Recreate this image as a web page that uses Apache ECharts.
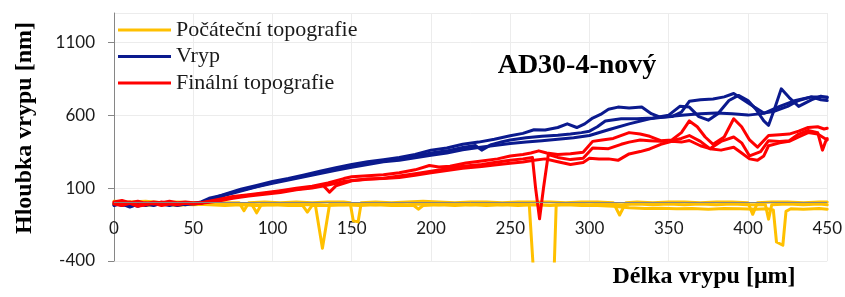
<!DOCTYPE html>
<html><head><meta charset="utf-8">
<script src="https://cdn.jsdelivr.net/npm/echarts@6/dist/echarts.min.js"></script>
<style>html,body{margin:0;padding:0;background:#fff}#c{width:845px;height:297px}</style>
</head><body><div id="c"></div>
<script>
// ---- data (x in µm, depth in nm) ----
const legendNames = ['Počáteční topografie', 'Vryp', 'Finální topografie'];
const titleText = 'AD30-4-nový';
const xName = 'Délka vrypu [μm]';
const yName = 'Hloubka vrypu [nm]';
const yMin = -400, yMax = 1300, yStep = 500;
const xMin = 0, xMax = 450, xStep = 50;

const initial1 = [[0,10],[10,5],[20,10],[30,0],[40,5],[50,0],[60,5],[70,0],[79,0],[82,-56],[85,0],[95,5],[105,0],[115,5],[125,0],[135,5],[145,5],[149,0],[151,-125],[154,-132],[156,0],[165,5],[175,0],[185,5],[195,10],[205,5],[215,0],[225,5],[235,5],[245,0],[255,5],[265,5],[275,5],[285,0],[295,5],[305,5],[315,0],[319,-85],[323,0],[330,5],[340,0],[350,5],[360,5],[370,0],[380,5],[390,5],[400,0],[403,-80],[406,0],[415,5],[425,5],[435,0],[445,5],[450,5]];
const initial2 = [[0,-10],[10,-15],[20,-5],[30,-15],[40,-10],[50,-15],[60,-10],[70,-15],[80,-10],[87,-12],[90,-70],[93,-12],[100,-15],[110,-10],[120,-15],[127,-12],[131.5,-313],[136,-12],[145,-15],[155,-10],[165,-15],[175,-10],[185,-15],[195,-10],[205,-15],[215,-10],[225,-15],[235,-10],[245,-15],[255,-10],[262,-12],[266,-700],[272,-900],[277,-700],[279,-15],[290,-10],[300,-15],[310,-10],[320,-15],[330,-10],[340,-15],[350,-10],[360,-15],[370,-10],[380,-15],[390,-10],[400,-15],[411,-15],[413,-113],[415,-15],[425,-10],[435,-15],[445,-10],[450,-15]];
const initial3 = [[0,-15],[10,-5],[20,-20],[30,-10],[40,-20],[50,-10],[60,-15],[70,-20],[80,-15],[90,-20],[100,-15],[110,-20],[119,-18],[122,-65],[125,-18],[135,-20],[145,-15],[155,-20],[165,-15],[175,-20],[185,-20],[189,-18],[192,-45],[195,-20],[205,-15],[215,-20],[225,-15],[235,-20],[245,-15],[255,-20],[265,-15],[275,-20],[285,-15],[295,-20],[305,-20],[315,-25],[325,-35],[335,-40],[345,-38],[355,-42],[365,-40],[375,-45],[385,-40],[395,-42],[405,-45],[412,-42],[416,-50],[418,-270],[422,-292],[424,-60],[427,-42],[435,-45],[445,-40],[450,-45]];

const scratch1 = [[0,-5],[5,-20],[10,-10],[15,-25],[20,-5],[25,-15],[30,-10],[35,-20],[40,-5],[45,-15],[50,-5],[55,0],[60,20],[70,58],[80,92],[90,118],[100,145],[110,165],[120,190],[130,215],[140,240],[150,262],[160,280],[170,295],[180,310],[190,330],[200,360],[210,375],[220,400],[230,415],[240,435],[250,458],[258,475],[265,500],[272,498],[280,515],[286,540],[292,515],[297,540],[302,580],[307,605],[312,640],[318,655],[325,648],[333,655],[339,610],[345,585],[352,590],[358,620],[363,695],[370,705],[378,710],[385,725],[391,748],[397,705],[404,655],[410,615],[416,625],[425,660],[432,700],[440,725],[446,705],[450,700]];
const scratch2 = [[0,-20],[5,-5],[10,-25],[15,-15],[20,-10],[25,-20],[30,-5],[35,-15],[40,-10],[45,-5],[50,-5],[55,5],[60,30],[70,55],[80,85],[90,110],[100,138],[110,160],[120,182],[130,208],[140,232],[150,250],[160,270],[170,285],[180,298],[190,318],[200,340],[210,355],[220,378],[228,392],[232,360],[238,398],[245,418],[250,430],[260,445],[270,455],[280,462],[288,470],[295,480],[300,490],[305,520],[310,560],[320,575],[330,575],[340,580],[350,600],[357,660],[363,655],[369,590],[375,565],[381,610],[388,700],[394,735],[400,700],[405,640],[410,560],[413,530],[417,650],[421,780],[426,720],[432,660],[440,705],[446,730],[450,720]];
const scratch3 = [[0,-15],[5,-10],[10,-30],[15,-10],[20,-20],[25,-5],[30,-15],[35,-10],[40,-20],[45,-10],[50,-10],[55,-5],[60,15],[70,50],[80,80],[90,108],[100,132],[110,155],[120,178],[130,200],[140,222],[150,242],[160,262],[170,280],[180,290],[190,308],[200,325],[210,340],[220,362],[230,378],[240,392],[250,405],[260,415],[270,425],[280,435],[290,445],[300,460],[312,500],[325,540],[338,575],[350,590],[360,600],[370,610],[380,615],[390,610],[400,600],[410,612],[420,660],[430,700],[440,725],[450,725]];

const final1 = [[0,5],[5,15],[10,0],[15,10],[20,-5],[25,5],[30,0],[35,10],[40,0],[45,5],[50,0],[55,0],[65,20],[75,42],[85,55],[95,68],[105,82],[115,98],[125,112],[135,135],[145,165],[150,178],[160,185],[170,192],[180,205],[190,225],[199,255],[205,245],[212,250],[222,272],[232,285],[242,300],[250,320],[258,330],[263,340],[268,355],[273,340],[280,330],[288,335],[296,345],[302,420],[308,430],[315,440],[325,480],[332,470],[338,455],[345,425],[352,430],[358,480],[363,560],[368,520],[373,450],[378,400],[385,450],[391,575],[396,520],[401,430],[406,380],[413,460],[420,465],[426,470],[432,490],[438,515],[444,520],[448,505],[450,510]];
const final2 = [[0,-10],[5,-20],[10,-5],[15,-25],[20,-15],[25,-5],[30,-20],[35,-10],[40,-15],[45,-5],[50,-10],[55,-2],[65,15],[75,35],[85,50],[95,62],[105,78],[115,92],[125,105],[132,118],[136,72],[140,115],[150,150],[160,160],[170,168],[180,182],[190,198],[200,215],[210,232],[220,250],[232,262],[240,275],[250,290],[258,300],[264,310],[266,100],[268.5,-110],[271,100],[274,330],[280,310],[288,295],[296,305],[302,375],[312,370],[320,400],[325,415],[332,430],[338,425],[345,420],[352,425],[358,440],[363,460],[370,420],[376,370],[383,420],[391,450],[396,410],[401,320],[408,350],[413,425],[420,420],[426,425],[432,470],[438,495],[444,480],[447,360],[449,420],[450,440]];
const final3 = [[0,0],[5,-10],[10,5],[15,-15],[20,0],[25,-10],[30,5],[35,-5],[40,-10],[45,0],[50,-5],[55,-5],[65,10],[75,30],[85,45],[95,58],[105,70],[115,88],[125,100],[135,120],[145,145],[150,152],[160,162],[170,165],[180,172],[190,188],[200,205],[210,220],[220,235],[232,248],[240,258],[250,270],[258,278],[265,290],[272,300],[280,280],[288,262],[296,275],[300,305],[306,300],[312,300],[318,290],[325,334],[332,350],[338,368],[345,400],[352,420],[358,415],[363,426],[370,390],[376,370],[383,360],[391,380],[396,340],[401,300],[406,290],[410,320],[413,390],[420,410],[426,420],[432,450],[438,480],[444,470],[450,430]];

// ---- chart ----
const colors = ['#FFC000', '#0b1a8e', '#FF0000'];
const groups = [
  [legendNames[0], colors[0], [initial1, initial2, initial3], 2],
  [legendNames[1], colors[1], [scratch1, scratch2, scratch3], 3],
  [legendNames[2], colors[2], [final1, final2, final3], 4]
];
const series = [];
groups.forEach(([name, color, traces, z]) => {
  traces.forEach(d => series.push({
    type: 'line', name, data: d, z,
    showSymbol: false, symbol: 'none', clip: true, animation: false,
    lineStyle: { color, width: 3, join: 'round', cap: 'round' },
    itemStyle: { color }
  }));
});
// x axis line drawn at depth 0 (as in the original, where the axis crosses at 0)
series.unshift({
  type: 'line', data: [], z: 1, silent: true, animation: false,
  markLine: {
    silent: true, symbol: 'none', animation: false,
    label: { show: false },
    lineStyle: { color: '#868686', width: 1, type: 'solid' },
    data: [{ yAxis: 0 }]
  }
});

const serif = '"Liberation Serif", "Times New Roman", serif';
const sans = 'Lato, "Open Sans", sans-serif';
const chart = echarts.init(document.getElementById('c'));
chart.setOption({
  animation: false,
  backgroundColor: '#fff',
  grid: { left: 114, right: 17, top: 13, bottom: 36 },
  legend: {
    data: legendNames, orient: 'vertical', left: 113, top: 14,
    icon: 'rect', itemWidth: 53, itemHeight: 3, itemGap: 4.5,
    textStyle: { fontFamily: serif, fontSize: 22, color: '#1a1a1a', lineHeight: 20 }
  },
  xAxis: {
    type: 'value', min: xMin, max: xMax, interval: xStep,
    axisLine: { show: false },
    axisTick: { show: false },
    axisLabel: { margin: -41, fontFamily: sans, fontSize: 17, color: '#1a1a1a',
                 formatter: v => String(v) },
    splitLine: { show: true, lineStyle: { color: '#ececec', width: 1 } }
  },
  yAxis: {
    type: 'value', min: yMin, max: yMax, interval: yStep,
    axisLine: { show: true, lineStyle: { color: '#868686', width: 1 } },
    axisTick: { show: true, length: 6, lineStyle: { color: '#868686' } },
    axisLabel: { margin: 19, fontFamily: sans, fontSize: 17, color: '#1a1a1a', showMaxLabel: false,
                 formatter: v => String(v) },
    splitLine: { show: true, lineStyle: { color: '#ececec', width: 1 } }
  },
  graphic: [
    { type: 'text', x: 25, y: 128, rotation: Math.PI / 2, z: 100,
      style: { text: yName, font: 'bold 24px ' + serif, fill: '#000',
               textAlign: 'center', textVerticalAlign: 'middle', align: 'center', verticalAlign: 'middle' } },
    { type: 'text', x: 704, y: 277, z: 100,
      style: { text: xName, font: 'bold 24px ' + serif, fill: '#000',
               textAlign: 'center', textVerticalAlign: 'middle', align: 'center', verticalAlign: 'middle' } },
    { type: 'text', x: 577, y: 66, z: 100,
      style: { text: titleText, font: 'bold 28px ' + serif, fill: '#000',
               textAlign: 'center', textVerticalAlign: 'middle', align: 'center', verticalAlign: 'middle' } }
  ],
  series
});
</script>
</body></html>
